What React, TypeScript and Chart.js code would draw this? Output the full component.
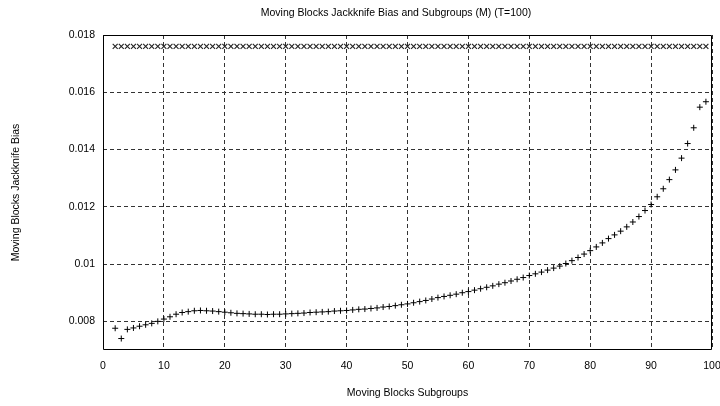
import React, { useEffect, useRef } from "react";
import { Chart, registerables } from "chart.js";

Chart.register(...registerables);

const TITLE = "Moving Blocks Jackknife Bias and Subgroups (M) (T=100)";
const X_TITLE = "Moving Blocks Subgroups";
const Y_TITLE = "Moving Blocks Jackknife Bias";

// Subgroups M = 2..99
const subgroups = [
  2, 3, 4, 5, 6, 7, 8, 9, 10, 11, 12, 13, 14, 15, 16, 17, 18, 19, 20, 21,
  22, 23, 24, 25, 26, 27, 28, 29, 30, 31, 32, 33, 34, 35, 36, 37, 38, 39, 40, 41,
  42, 43, 44, 45, 46, 47, 48, 49, 50, 51, 52, 53, 54, 55, 56, 57, 58, 59, 60, 61,
  62, 63, 64, 65, 66, 67, 68, 69, 70, 71, 72, 73, 74, 75, 76, 77, 78, 79, 80, 81,
  82, 83, 84, 85, 86, 87, 88, 89, 90, 91, 92, 93, 94, 95, 96, 97, 98, 99,
];

// "+" series: jackknife bias estimate
const biasPlus = [
  0.00776, 0.0074, 0.00772, 0.00777, 0.00783, 0.00788, 0.00793, 0.008, 0.00808, 0.00816,
  0.00825, 0.00831, 0.00834, 0.00837, 0.00838, 0.00837, 0.00836, 0.00834, 0.00832, 0.0083,
  0.00828, 0.00827, 0.00826, 0.00825, 0.00825, 0.00824, 0.00825, 0.00825, 0.00826, 0.00827,
  0.00828, 0.00829, 0.00831, 0.00832, 0.00833, 0.00834, 0.00836, 0.00837, 0.00838, 0.0084,
  0.00842, 0.00843, 0.00845, 0.00847, 0.0085, 0.00852, 0.00855, 0.00858, 0.00861, 0.00865,
  0.00869, 0.00873, 0.00878, 0.00883, 0.00887, 0.00891, 0.00895, 0.009, 0.00904, 0.00909,
  0.00914, 0.00919, 0.00924, 0.0093, 0.00935, 0.00941, 0.00947, 0.00953, 0.0096, 0.00966,
  0.00972, 0.00979, 0.00986, 0.00993, 0.01002, 0.01012, 0.01023, 0.01035, 0.01047, 0.0106,
  0.01074, 0.01089, 0.01102, 0.01115, 0.0113, 0.01147, 0.01166, 0.01187, 0.01208, 0.01235,
  0.01263, 0.01295, 0.01329, 0.0137, 0.01421, 0.01476, 0.01548, 0.01567,
];

// "x" series: reference bias level
const biasCross = [
  0.0176, 0.0176, 0.0176, 0.0176, 0.0176, 0.0176, 0.0176, 0.0176, 0.0176, 0.0176,
  0.0176, 0.0176, 0.0176, 0.0176, 0.0176, 0.0176, 0.0176, 0.0176, 0.0176, 0.0176,
  0.0176, 0.0176, 0.0176, 0.0176, 0.0176, 0.0176, 0.0176, 0.0176, 0.0176, 0.0176,
  0.0176, 0.0176, 0.0176, 0.0176, 0.0176, 0.0176, 0.0176, 0.0176, 0.0176, 0.0176,
  0.0176, 0.0176, 0.0176, 0.0176, 0.0176, 0.0176, 0.0176, 0.0176, 0.0176, 0.0176,
  0.0176, 0.0176, 0.0176, 0.0176, 0.0176, 0.0176, 0.0176, 0.0176, 0.0176, 0.0176,
  0.0176, 0.0176, 0.0176, 0.0176, 0.0176, 0.0176, 0.0176, 0.0176, 0.0176, 0.0176,
  0.0176, 0.0176, 0.0176, 0.0176, 0.0176, 0.0176, 0.0176, 0.0176, 0.0176, 0.0176,
  0.0176, 0.0176, 0.0176, 0.0176, 0.0176, 0.0176, 0.0176, 0.0176, 0.0176, 0.0176,
  0.0176, 0.0176, 0.0176, 0.0176, 0.0176, 0.0176, 0.0176, 0.0176,
];

const xTicks = [0, 10, 20, 30, 40, 50, 60, 70, 80, 90, 100];
const yTicks = [0.008, 0.01, 0.012, 0.014, 0.016, 0.018];

const FONT_FAMILY = '"Liberation Sans", Arial, sans-serif';

export default function App() {
  const canvasRef = useRef<HTMLCanvasElement | null>(null);

  useEffect(() => {
    document.body.style.margin = "0";
    const canvas = canvasRef.current;
    if (!canvas) return;

    const boxPlugin = {
      id: "boxAndTitle",
      afterDraw(chart: any) {
        const { ctx } = chart;
        const xs = chart.scales.x;
        const ys = chart.scales.y;
        const l = Math.round(xs.getPixelForValue(0)) + 0.5;
        const r = Math.round(xs.getPixelForValue(100)) - 0.5;
        const t = Math.round(ys.getPixelForValue(0.018)) + 0.5;
        const b = Math.round(ys.getPixelForValue(0.007)) - 0.5;
        ctx.save();
        ctx.strokeStyle = "#000";
        ctx.lineWidth = 1;
        ctx.setLineDash([]);
        ctx.beginPath();
        ctx.moveTo(l, t);
        ctx.lineTo(r, t);
        ctx.lineTo(r, b);
        ctx.lineTo(l, b);
        ctx.closePath();
        ctx.stroke();
        ctx.fillStyle = "#000";
        ctx.font = `10.5px ${FONT_FAMILY}`;
        ctx.textAlign = "center";
        ctx.textBaseline = "middle";
        ctx.fillText(TITLE, 396, 13);
        ctx.restore();
      },
    };

    const chart = new Chart(canvas, {
      type: "scatter",
      data: {
        datasets: [
          {
            label: "cross",
            data: subgroups.map((m, i) => ({ x: m, y: biasCross[i] })),
            pointStyle: "crossRot",
            pointRadius: 3.5,
            pointBorderColor: "#222",
            pointBorderWidth: 1.1,
            showLine: false,
          },
          {
            label: "plus",
            data: subgroups.map((m, i) => ({ x: m, y: biasPlus[i] })),
            pointStyle: "cross",
            pointRadius: 3,
            pointBorderColor: "#000",
            pointBorderWidth: 1,
            showLine: false,
          },
        ],
      },
      options: {
        responsive: false,
        animation: false,
        events: [],
        layout: { padding: { left: 0, right: 8, top: 35, bottom: 0 } },
        plugins: {
          legend: { display: false },
          title: { display: false },
          tooltip: { enabled: false },
        },
        scales: {
          x: {
            type: "linear",
            min: 0,
            max: 100,
            afterBuildTicks(scale: any) {
              scale.ticks = xTicks.map((v) => ({ value: v }));
            },
            afterFit(scale: any) {
              scale.height = 56;
              scale.paddingLeft = 0;
              scale.paddingRight = 0;
            },
            border: { display: false, dash: [4, 3] },
            grid: {
              color: "#333",
              lineWidth: 1,
              drawTicks: false,
            },
            ticks: {
              color: "#000",
              padding: 10,
              maxRotation: 0,
              font: { family: FONT_FAMILY, size: 10.5 },
              callback: (v: any) => String(v),
            },
            title: {
              display: true,
              text: X_TITLE,
              color: "#000",
              font: { family: FONT_FAMILY, size: 10.5 },
              padding: { top: 7, bottom: 7 },
            },
          },
          y: {
            type: "linear",
            min: 0.007,
            max: 0.018,
            afterBuildTicks(scale: any) {
              scale.ticks = yTicks.map((v) => ({ value: v }));
            },
            afterFit(scale: any) {
              scale.width = 103;
              scale.paddingTop = 0;
              scale.paddingBottom = 0;
            },
            border: { display: false, dash: [4, 3] },
            grid: {
              color: "#333",
              lineWidth: 1,
              drawTicks: false,
            },
            ticks: {
              color: "#000",
              padding: 8,
              font: { family: FONT_FAMILY, size: 10.5 },
              callback: (v: any) => String(+Number(v).toFixed(4)),
            },
            title: {
              display: true,
              text: Y_TITLE,
              color: "#000",
              font: { family: FONT_FAMILY, size: 10.5 },
              padding: { top: 10, bottom: 10 },
            },
          },
        },
      },
      plugins: [boxPlugin],
    } as any);

    return () => chart.destroy();
  }, []);

  return (
    <div style={{ width: 720, height: 406 }}>
      <canvas ref={canvasRef} width={720} height={406} />
    </div>
  );
}
